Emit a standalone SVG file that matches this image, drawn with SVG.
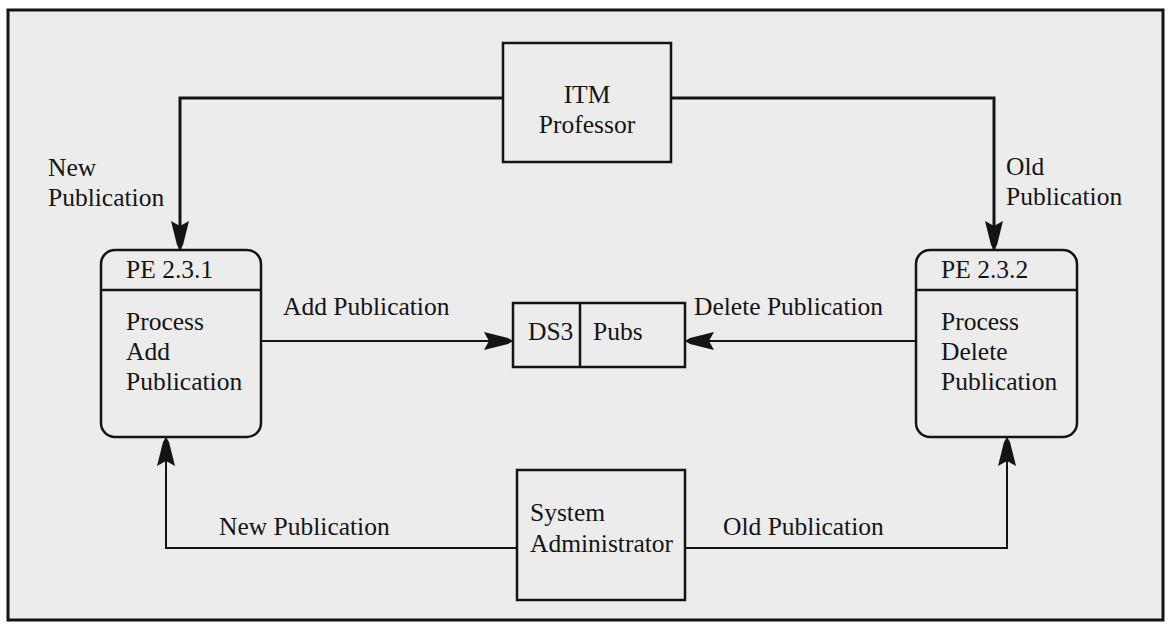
<svg xmlns="http://www.w3.org/2000/svg" width="1168" height="627" viewBox="0 0 1168 627">
<style>
text{font-family:"Liberation Serif","Times New Roman",serif;font-size:25.5px;fill:#141414}
.box{fill:none;stroke:#141414;stroke-width:2.5}
.c{fill:none;stroke:#141414}
.thick{stroke-width:3}
.thin{stroke-width:2}
.mid{text-anchor:middle}
</style>
<defs>
<marker id="ah" markerUnits="userSpaceOnUse" markerWidth="32" markerHeight="20" refX="29" refY="9" orient="auto">
<path d="M0,0 L24,6 L29,9 L24,12 L0,18 L5,9 Z" fill="#141414"/>
</marker>
</defs>
<rect x="0" y="0" width="1168" height="627" fill="#ffffff"/>
<rect x="8" y="10" width="1155" height="610" fill="#ececec" stroke="#141414" stroke-width="3"/>

<g id="connectors">
<path class="c thick" d="M503,98 H180 V250" marker-end="url(#ah)"/>
<path class="c thick" d="M671,98 H994 V250" marker-end="url(#ah)"/>
<path class="c thin" d="M261,341 H513" marker-end="url(#ah)"/>
<path class="c thin" d="M916,341 H685" marker-end="url(#ah)"/>
<path class="c thin" d="M517,548 H166 V437" marker-end="url(#ah)"/>
<path class="c thin" d="M685,548 H1007 V437" marker-end="url(#ah)"/>
<text x="48" y="176">New</text>
<text x="48" y="206">Publication</text>
<text x="1006" y="175">Old</text>
<text x="1006" y="205">Publication</text>
<text x="283" y="315">Add Publication</text>
<text x="694" y="315">Delete Publication</text>
<text x="219" y="535">New Publication</text>
<text x="723" y="535">Old Publication</text>
</g>

<g id="itm-professor">
<rect class="box" x="503" y="43" width="168" height="119"/>
<text class="mid" x="587" y="103">ITM</text>
<text class="mid" x="587" y="133">Professor</text>
</g>

<g id="pe-2-3-1">
<rect class="box" x="101" y="250" width="160" height="187" rx="14"/>
<line class="box" x1="101" y1="290" x2="261" y2="290"/>
<text x="126" y="278">PE 2.3.1</text>
<text x="126" y="330">Process</text>
<text x="126" y="360">Add</text>
<text x="126" y="390">Publication</text>
</g>

<g id="pe-2-3-2">
<rect class="box" x="916" y="250" width="161" height="187" rx="14"/>
<line class="box" x1="916" y1="290" x2="1077" y2="290"/>
<text x="941" y="278">PE 2.3.2</text>
<text x="941" y="330">Process</text>
<text x="941" y="360">Delete</text>
<text x="941" y="390">Publication</text>
</g>

<g id="ds3-pubs">
<rect class="box" x="513" y="303" width="172" height="64"/>
<line class="box" x1="580" y1="303" x2="580" y2="367"/>
<text x="528" y="340">DS3</text>
<text x="593" y="340">Pubs</text>
</g>

<g id="system-administrator">
<rect class="box" x="517" y="470" width="168" height="130"/>
<text x="530" y="521">System</text>
<text x="530" y="552">Administrator</text>
</g>
</svg>
